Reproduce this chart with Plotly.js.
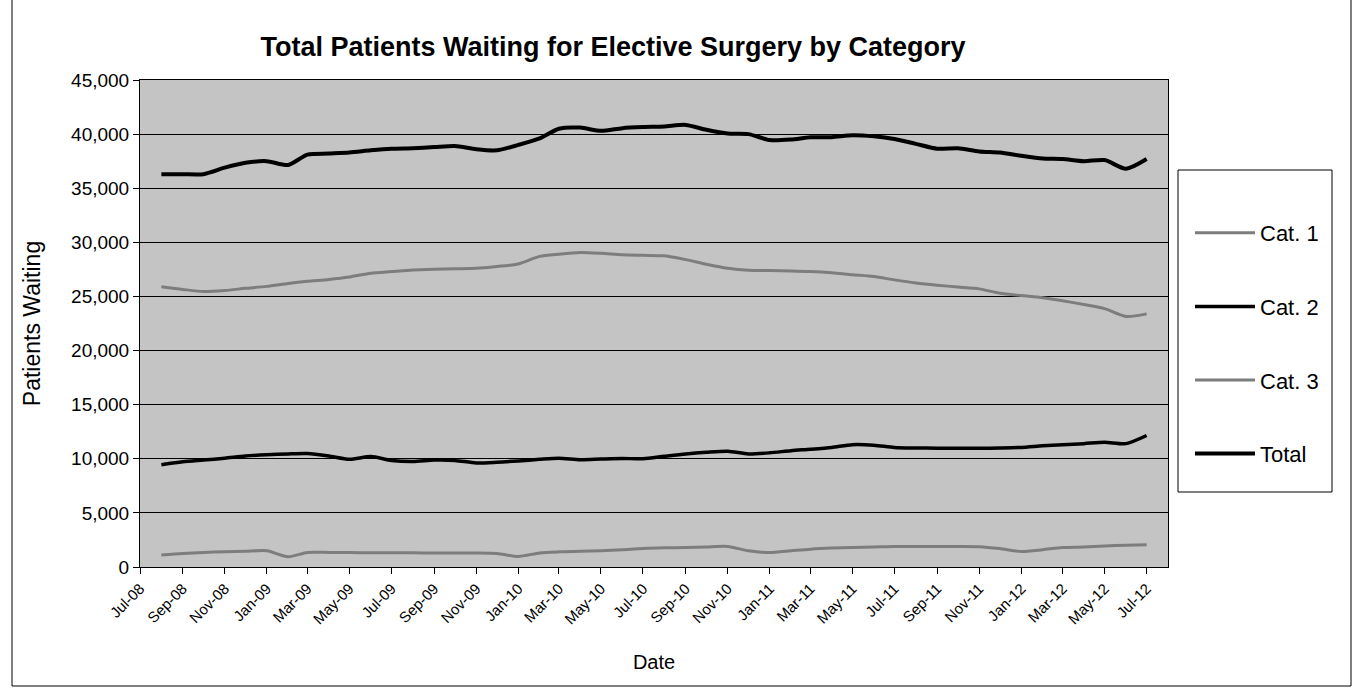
<!DOCTYPE html>
<html><head><meta charset="utf-8">
<script src="https://cdn.plot.ly/plotly-3.0.1.min.js"></script>
<style>html,body{margin:0;padding:0;background:#fff;} #chart{width:1361px;height:693px;}</style>
</head><body><div id="chart"></div>
<script>
const months = ['2008-08-01','2008-09-01','2008-10-01','2008-11-01','2008-12-01',
  '2009-01-01','2009-02-01','2009-03-01','2009-04-01','2009-05-01','2009-06-01','2009-07-01','2009-08-01','2009-09-01','2009-10-01','2009-11-01','2009-12-01',
  '2010-01-01','2010-02-01','2010-03-01','2010-04-01','2010-05-01','2010-06-01','2010-07-01','2010-08-01','2010-09-01','2010-10-01','2010-11-01','2010-12-01',
  '2011-01-01','2011-02-01','2011-03-01','2011-04-01','2011-05-01','2011-06-01','2011-07-01','2011-08-01','2011-09-01','2011-10-01','2011-11-01','2011-12-01',
  '2012-01-01','2012-02-01','2012-03-01','2012-04-01','2012-05-01','2012-06-01','2012-07-01'];

const cat1 = [1100,1250,1350,1400,1450,1500,950,1350,1350,1330,1320,1320,1310,1300,1300,1300,1250,980,1300,1400,1450,1500,1600,1720,
  1780,1800,1850,1900,1500,1330,1500,1650,1750,1800,1850,1900,1900,1900,1900,1880,1700,1430,1600,1800,1850,1950,2000,2050];

const cat2 = [9450,9720,9880,10050,10250,10370,10450,10480,10250,9950,10200,9850,9750,9880,9850,9620,9680,9800,9950,10050,9920,9980,10030,10000,
  10230,10450,10600,10700,10450,10550,10750,10880,11050,11300,11250,11050,11000,10980,10970,10970,11000,11050,11200,11300,11400,11530,11400,12150];

const cat3 = [25900,25650,25450,25550,25750,25930,26200,26400,26570,26800,27150,27300,27450,27520,27560,27600,27770,28000,28700,28900,29050,28980,28850,28800,
  28750,28400,27970,27600,27420,27400,27360,27300,27180,27000,26840,26530,26250,26040,25870,25700,25300,25080,24880,24600,24250,23870,23150,23390];

const total = [36300,36300,36300,36900,37350,37500,37150,38100,38200,38300,38500,38650,38700,38800,38900,38600,38500,39000,39600,40500,40600,40300,40550,40650,
  40700,40850,40400,40050,40000,39450,39500,39700,39720,39900,39800,39550,39100,38650,38700,38400,38300,38000,37750,37700,37500,37600,36800,37700];

const seriesNames = ['Cat. 1','Cat. 2','Cat. 3','Total'];
const yTicks = [0,5000,10000,15000,20000,25000,30000,35000,40000,45000];

const grey = '#7d7d7d';
const mk = (name, y, color, width, grp) => ({
  type:'scatter', mode:'lines', name:name, x:months, y:y,
  line:{color:color, width:width, shape:'spline', smoothing:0.7},
  legendgroup:grp
});
const traces = [
  mk(seriesNames[0], cat1, grey, 3, 'g1'),
  mk(seriesNames[1], cat2, '#000', 3.5, 'g2'),
  mk(seriesNames[2], cat3, grey, 3, 'g3'),
  mk(seriesNames[3], total, '#000', 4, 'g4')
];

const L = 140, R = 1168, T = 80, B = 567;
const px = v => (v - L) / (R - L);
const py = v => (B - v) / (B - T);

const layout = {
  width:1361, height:693,
  margin:{l:L, r:1361-R, t:T, b:693-B, autoexpand:false},
  paper_bgcolor:'#ffffff', plot_bgcolor:'#c4c4c4',
  font:{family:'"Liberation Sans", Arial, sans-serif', color:'#000'},
  title:{text:'Total Patients Waiting for Elective Surgery by Category',
    font:{size:27, weight:'bold', color:'#000'},
    x:613/1361, xref:'container', xanchor:'center', y:1-47/693, yref:'container', yanchor:'middle'},
  xaxis:{type:'date', range:['2008-07-01','2012-08-01'], tick0:'2008-07-01', dtick:'M2',
    tickformat:'%b-%y', tickangle:-45, ticks:'outside', ticklen:6, tickcolor:'#000',
    showline:true, linecolor:'#000', linewidth:1, mirror:true, showgrid:false, zeroline:false,
    tickfont:{size:15}, automargin:false,
    title:{text:'Date', font:{size:20}, standoff:28}},
  yaxis:{range:[0,45000], tickvals:yTicks, tickformat:',d', ticks:'outside', ticklen:6, tickcolor:'#000',
    showline:true, linecolor:'#000', linewidth:1, mirror:true, showgrid:true, gridcolor:'#000', gridwidth:1,
    zeroline:false, tickfont:{size:19}, automargin:false,
    title:{text:'Patients Waiting', font:{size:23}, standoff:24}},
  showlegend:true,
  legend:{x:px(1190), xanchor:'left', y:py(212), yanchor:'top', bgcolor:'rgba(0,0,0,0)', borderwidth:0,
    font:{size:22, color:'#000'}, itemwidth:60, traceorder:'grouped', tracegroupgap:42},
  shapes:[
    {type:'rect', xref:'paper', yref:'paper', x0:px(12), x1:px(1351), y0:py(686), y1:py(-3),
     line:{color:'#000', width:1}, fillcolor:'rgba(0,0,0,0)', layer:'below'},
    {type:'rect', xref:'paper', yref:'paper', x0:px(1178), x1:px(1332), y0:py(492), y1:py(170),
     line:{color:'#000', width:1}, fillcolor:'#ffffff', layer:'above'}
  ]
};

Plotly.newPlot('chart', traces, layout, {displayModeBar:false, staticPlot:true});
</script>
</body></html>
